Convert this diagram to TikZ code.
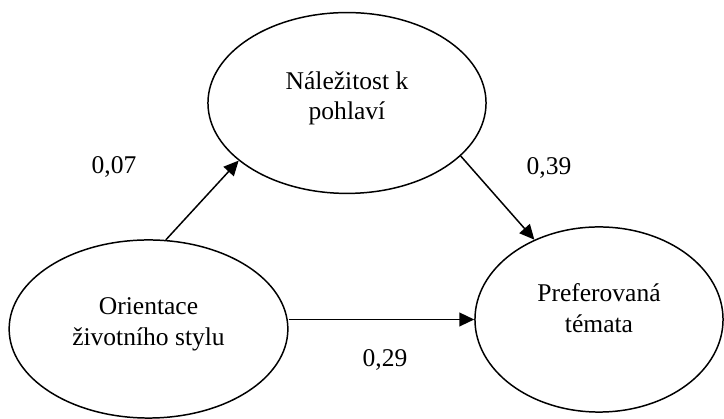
\documentclass[tikz,border=0pt]{standalone}
\usepackage{fontspec}
\setmainfont{Liberation Serif}
\usetikzlibrary{shapes.geometric, arrows.meta, positioning}

\begin{document}
\begin{tikzpicture}[
            x=0.47pt, y=-0.47pt,
            every node/.style={font=\fontsize{12pt}{14.5pt}\selectfont},
            factor/.style={
                    ellipse,
                    draw,
                    line width=0.7pt,
                    inner sep=0pt,
                    text depth=7pt,
                    align=center
                },
            coef/.style={
                    inner sep=0pt
                },
            arrow/.style={
            -{Triangle[length=7pt,width=6.5pt]},
            line width=0.7pt
            }
            ]

            \useasboundingbox (0,0) rectangle (724,419);

            % Node diagram
            \node (belong) [factor, minimum width=130.7pt, minimum height=85pt] at (347,103) {Náležitost k\\pohlaví};

            \node (orient) [factor, minimum width=131pt, minimum height=83.7pt] at (148.5,329) {Orientace\\životního stylu};

            \node (pref) [factor, text depth=11pt, minimum width=116.6pt, minimum height=87pt] at (599,319.5) {Preferovaná\\témata};

            % Koeficienty
            \node (coefbelong) [coef] at (114,167) {0,07};
            \node (coefpref) [coef] at (549,168) {0,39};
            \node (coefdirect) [coef] at (385,360) {0,29};

            % Garis panah
            \draw [arrow] (orient.79) -- (belong.208);
            \draw [arrow] (belong.335) -- (pref.129);
            \draw [arrow] (pref.west -| orient.east) -- (pref.west);

        \end{tikzpicture}
\end{document}
